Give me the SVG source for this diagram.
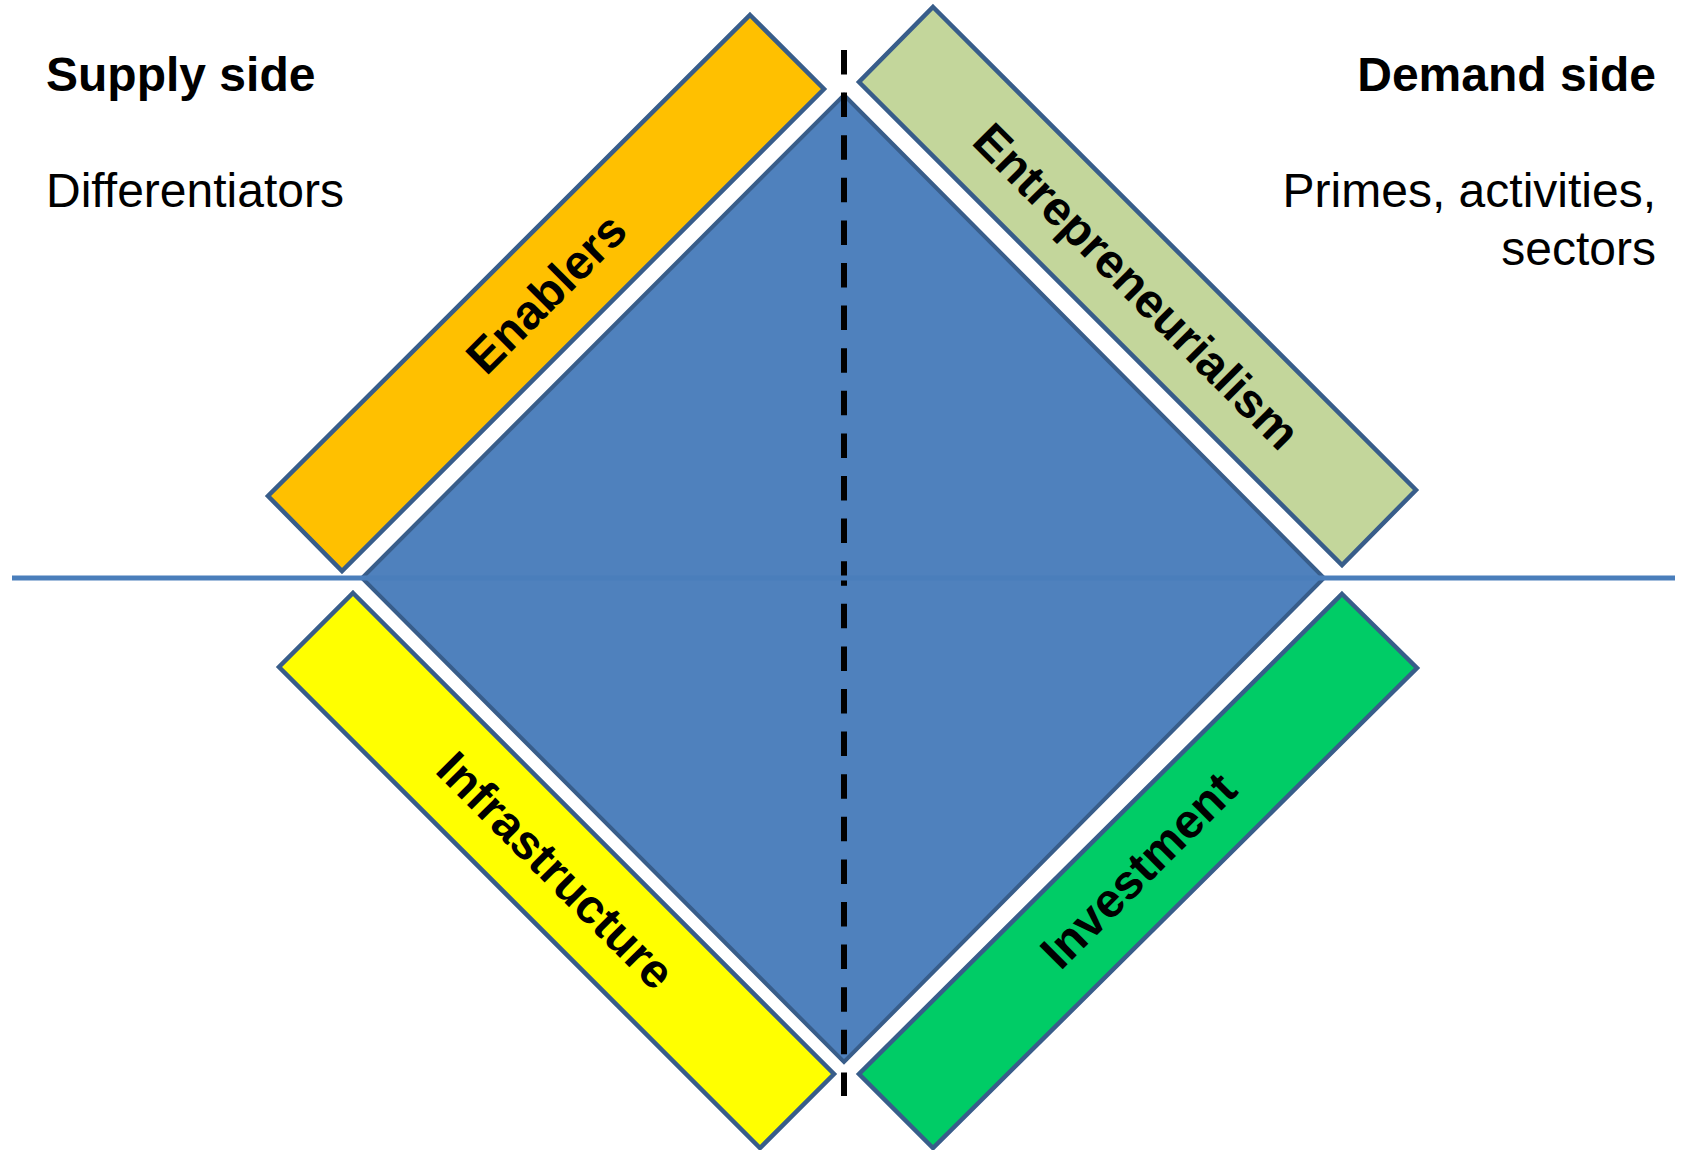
<svg xmlns="http://www.w3.org/2000/svg" width="1683" height="1150" viewBox="0 0 1683 1150">
<style>
.bar{stroke:#385D8A;stroke-width:4.5;stroke-linejoin:miter}
.lbl{font-family:"Liberation Sans",Arial,sans-serif;font-weight:bold;font-size:48px;fill:#000;text-anchor:middle}
.hd{font-family:"Liberation Sans",Arial,sans-serif;font-weight:bold;font-size:48px;fill:#000}
.sub{font-family:"Liberation Sans",Arial,sans-serif;font-size:48px;fill:#000}
</style>
<rect width="1683" height="1150" fill="#fff"/>
<g id="core">
<polygon points="844,95 1324,578 844,1062 362,578" fill="#4F81BD" stroke="#385D8A" stroke-width="4"/>
</g>
<g id="connectors">
<line x1="844" y1="50" x2="844" y2="1096" stroke="#000" stroke-width="6" stroke-dasharray="24.5 18.1"/>
<line x1="12" y1="578" x2="1675" y2="578" stroke="#4A7EBB" stroke-width="5"/>
</g>
<g id="enablers">
<polygon class="bar" points="750,15 824,89 342,571 268,496" fill="#FFC000"/>
<text class="lbl" transform="translate(546,293) rotate(-45)" y="17">Enablers</text>
</g>
<g id="entrepreneurialism">
<polygon class="bar" points="933,7 1416,490 1342,565 859,82" fill="#C3D69B"/>
<text class="lbl" transform="translate(1137,286) rotate(45)" y="17">Entrepreneurialism</text>
</g>
<g id="infrastructure">
<polygon class="bar" points="353,593 834,1074 760,1148 279,667" fill="#FFFF00"/>
<text class="lbl" transform="translate(556,870) rotate(45)" y="17">Infrastructure</text>
</g>
<g id="investment">
<polygon class="bar" points="1342,594 1417,668 933,1148 859,1074" fill="#00CC66"/>
<text class="lbl" transform="translate(1138,870) rotate(-45)" y="17">Investment</text>
</g>
<g id="supply">
<text class="hd" x="46" y="91">Supply side</text>
<text class="sub" x="46" y="207">Differentiators</text>
</g>
<g id="demand">
<text class="hd" x="1656" y="91" text-anchor="end">Demand side</text>
<text class="sub" x="1656" y="207" text-anchor="end">Primes, activities,</text>
<text class="sub" x="1656" y="265" text-anchor="end">sectors</text>
</g>
</svg>
